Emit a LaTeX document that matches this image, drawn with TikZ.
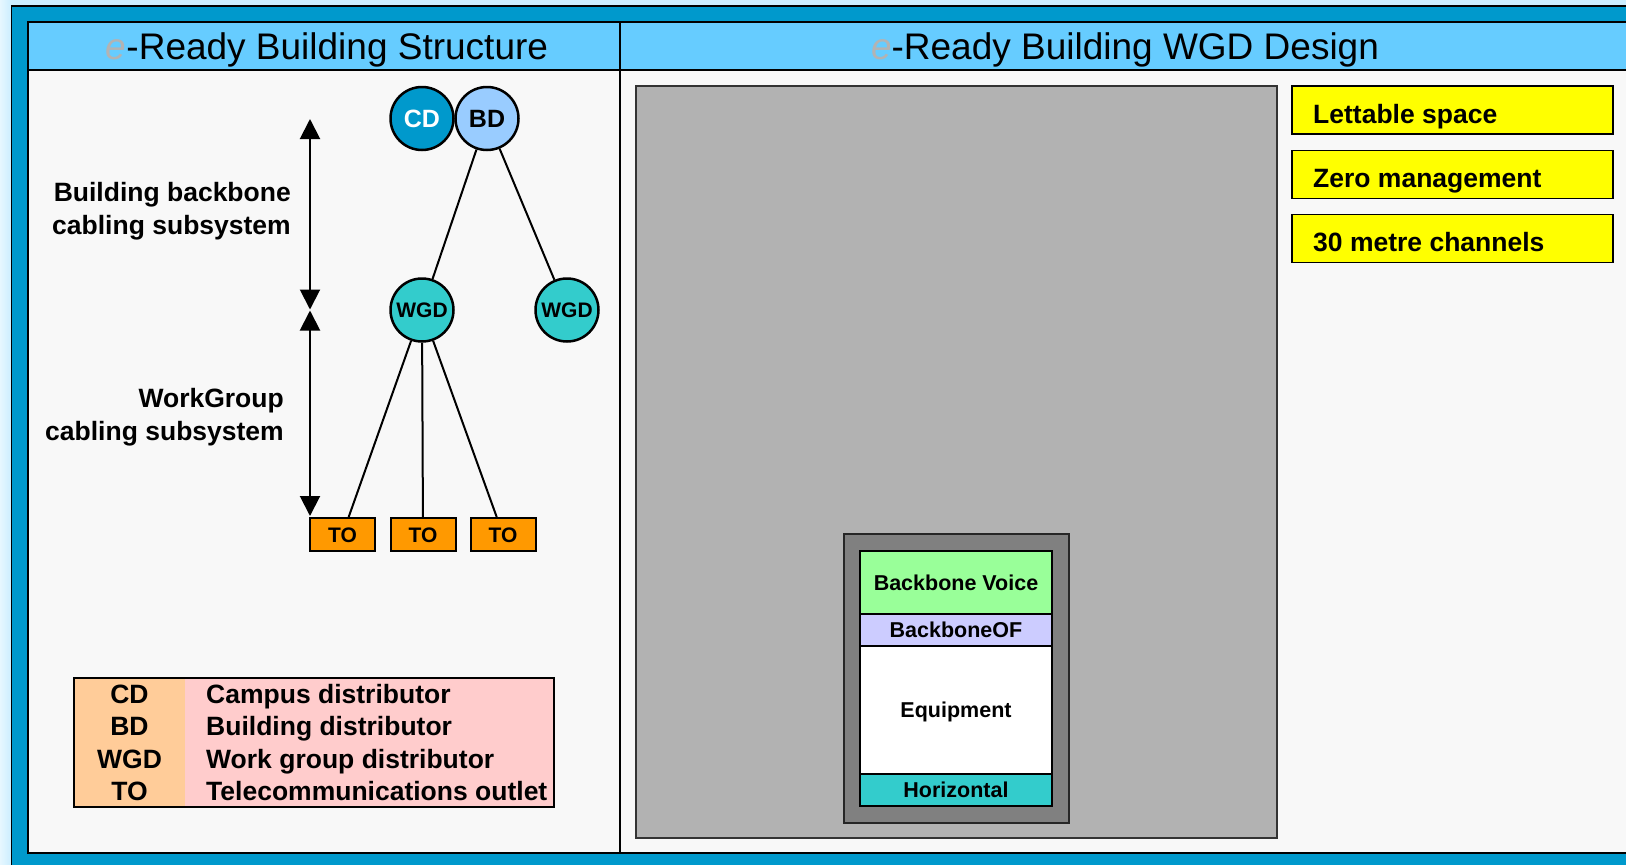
\documentclass[tikz,border=0pt]{standalone}
\usepackage{fontspec}
\setmainfont{Liberation Sans}
\usetikzlibrary{arrows.meta}
\definecolor{bgblue}{HTML}{CCEEFF}
\definecolor{bglight}{HTML}{E6F7FF}
\definecolor{frameblue}{HTML}{0099CC}
\definecolor{headblue}{HTML}{66CCFF}
\definecolor{panelgray}{HTML}{F8F8F8}
\definecolor{cdblue}{HTML}{0099CC}
\definecolor{bdblue}{HTML}{99CCFF}
\definecolor{wgdteal}{HTML}{33CCCC}
\definecolor{toorange}{HTML}{FF9900}
\definecolor{legorange}{HTML}{FFCC99}
\definecolor{legpink}{HTML}{FFCCCC}
\definecolor{floorgray}{HTML}{B2B2B2}
\definecolor{rackgray}{HTML}{808080}
\definecolor{bvgreen}{HTML}{99FF99}
\definecolor{oflav}{HTML}{CCCCFF}
\definecolor{ygold}{HTML}{FFFF00}
\definecolor{egray}{HTML}{B3B3B3}
\begin{document}
\begin{tikzpicture}[x=1pt,y=-1pt,
  hdr/.style={font=\fontsize{37}{44}\selectfont, text height=26.5pt, text depth=0pt, inner sep=0pt},
  dist/.style={circle, draw=black, line width=2.5pt, minimum size=63pt, inner sep=0pt,
    font=\fontsize{25}{30}\selectfont\bfseries, text height=18pt, text depth=0pt},
  wgd/.style={circle, draw=black, line width=2.5pt, fill=wgdteal, minimum size=63pt, inner sep=0pt,
    font=\fontsize{21}{25}\selectfont\bfseries, text height=15pt, text depth=0pt},
  tobox/.style={rectangle, draw=black, line width=2pt, fill=toorange, minimum width=65pt, minimum height=33pt, inner sep=0pt,
    font=\fontsize{21}{25}\selectfont\bfseries, text height=15pt, text depth=0pt},
  conn/.style={draw=black, line width=2pt},
  dblarrow/.style={draw=black, line width=2pt, {Triangle[length=20pt,width=20pt]}-{Triangle[length=20pt,width=20pt]}},
  lbl/.style={font=\fontsize{26.5}{32.5}\selectfont\bfseries, inner sep=0pt, align=right},
  legtxt/.style={font=\fontsize{26.5}{32}\selectfont\bfseries, inner sep=0pt, text height=19pt, text depth=0pt},
  slot/.style={rectangle, draw=black, line width=1.5pt, minimum width=192pt, inner sep=0pt,
    font=\fontsize{21.5}{25}\selectfont\bfseries, text height=15.4pt, text depth=0pt},
  ybox/.style={rectangle, draw=black, line width=1.5pt, fill=ygold, minimum width=321pt, minimum height=48pt, inner sep=0pt},
  ytxt/.style={font=\fontsize{26.5}{32}\selectfont\bfseries, inner sep=0pt, text height=19pt, text depth=0pt, anchor=west}
]
\useasboundingbox (0,0) rectangle (1626,865);
\clip (0,0) rectangle (1626,865);
% background
\fill[bgblue] (0,0) rectangle (1626,865);
\shade[left color=bglight, right color=bgblue] (0,0) rectangle (11,865);
% outer frame and panels
\filldraw[fill=frameblue, draw=black, line width=1.5pt] (11.5,6) rectangle (1660,890);
\filldraw[fill=panelgray, draw=black, line width=1.5pt] (28,22) rectangle (1660,853);
\filldraw[fill=headblue, draw=black, line width=1.5pt] (28,22) rectangle (1660,70);
\draw[black, line width=1.5pt] (620,22) -- (620,853);
% headers
\node[hdr] (h1) at (327,46.5) {\textcolor{egray}{\textit{e}}-Ready Building Structure};
\node[hdr] (h2) at (1125,46.5) {\textcolor{egray}{\textit{e}}-Ready Building WGD Design};
% tree
\node[dist, fill=cdblue, text=white] (CD) at (422,118.5) {CD};
\node[dist, fill=bdblue] (BD) at (487,118.5) {BD};
\node[wgd] (W1) at (422,310) {WGD};
\node[wgd] (W2) at (567,310) {WGD};
\node[tobox] (T1) at (342.5,534.5) {TO};
\node[tobox] (T2) at (423,534.5) {TO};
\node[tobox] (T3) at (503,534.5) {TO};
\draw[conn] (BD) -- (W1);
\draw[conn] (BD) -- (W2);
\draw[conn] (W1) -- (T1);
\draw[conn] (W1) -- (T2);
\draw[conn] (W1) -- (T3);
% subsystem arrows
\coordinate (A1) at (310,119);
\coordinate (A2) at (310,309.5);
\coordinate (A3) at (310,310.5);
\coordinate (A4) at (310,516);
\draw[dblarrow] (A1) -- (A2);
\draw[dblarrow] (A3) -- (A4);
\node[lbl, anchor=east] (L1) at (291,211) {Building backbone\\cabling subsystem};
\node[lbl, anchor=east] (L2) at (284,417) {WorkGroup\\cabling subsystem};
% legend
\fill[legorange] (74,678) rectangle (185,807);
\fill[legpink] (185,678) rectangle (554,807);
\draw[black, line width=1.5pt] (74,678) rectangle (554,807);
\node[legtxt] (k1) at (129.5,693.5) {CD};
\node[legtxt] (k2) at (129.5,726) {BD};
\node[legtxt] (k3) at (129.5,758.5) {WGD};
\node[legtxt] (k4) at (129.5,791) {TO};
\node[legtxt, anchor=west] (d1) at (206,693.5) {Campus distributor};
\node[legtxt, anchor=west] (d2) at (206,726) {Building distributor};
\node[legtxt, anchor=west] (d3) at (206,758.5) {Work group distributor};
\node[legtxt, anchor=west] (d4) at (206,791) {Telecommunications outlet};
% right panel floor
\filldraw[fill=floorgray, draw=black!80, line width=1.5pt] (636,86) rectangle (1277,838);
\filldraw[fill=rackgray, draw=black!85, line width=2pt] (844,534) rectangle (1069,823);
\node[slot, fill=bvgreen, minimum height=63pt] (BV) at (956,582.5) {Backbone Voice};
\node[slot, fill=oflav, minimum height=32pt] (BOF) at (956,630) {BackboneOF};
\node[slot, fill=white, minimum height=128pt] (EQ) at (956,710) {Equipment};
\node[slot, fill=wgdteal, minimum height=32pt] (HZ) at (956,790) {Horizontal};
% yellow boxes
\node[ybox] (Y1) at (1452.5,110) {};
\node[ybox] (Y2) at (1452.5,174.5) {};
\node[ybox] (Y3) at (1452.5,238.5) {};
\node[ytxt] (Y1t) at (1313,113.5) {Lettable space};
\node[ytxt] (Y2t) at (1313,178) {Zero management};
\node[ytxt] (Y3t) at (1313,242) {30 metre channels};
\end{tikzpicture}
\end{document}
